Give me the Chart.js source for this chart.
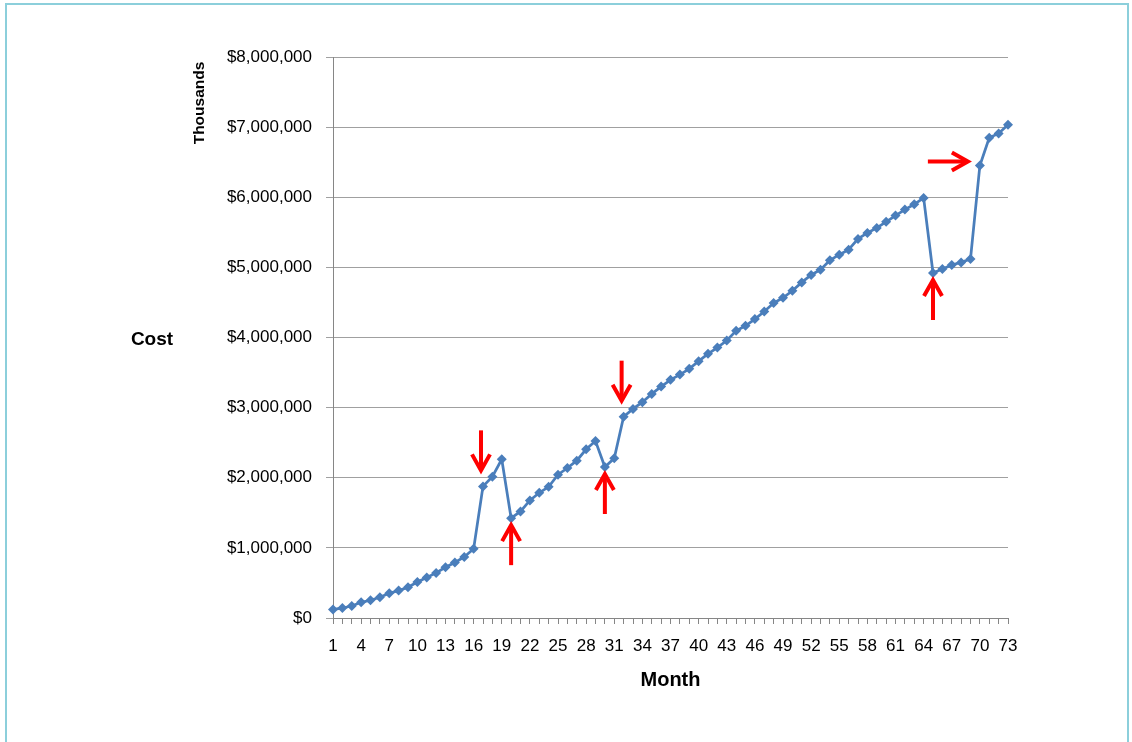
<!DOCTYPE html>
<html>
<head>
<meta charset="utf-8">
<script src="https://cdn.jsdelivr.net/npm/chart.js@4/dist/chart.umd.min.js"></script>
<style>
  html, body { margin: 0; padding: 0; background: #ffffff; }
  #wrap { width: 1132px; height: 742px; position: relative; }
</style>
</head>
<body>
<div id="wrap"><canvas id="c" width="1132" height="742"></canvas></div>
<script>
// ---- data ----
const months = Array.from({length: 73}, (_, i) => String(i + 1));
const costValues = [
  120000, 143000, 171000, 224000, 253000, 296000, 353000, 391000, 439000, 514000,
  577000, 643000, 724000, 791000, 871000, 986000, 1877000, 2014000, 2263000, 1424000,
  1520000, 1677000, 1786000, 1871000, 2043000, 2139000, 2243000, 2406000, 2524000, 2153000,
  2277000, 2871000, 2981000, 3077000, 3196000, 3300000, 3396000, 3471000, 3553000, 3663000,
  3767000, 3857000, 3957000, 4096000, 4167000, 4263000, 4371000, 4491000, 4567000, 4667000,
  4786000, 4891000, 4967000, 5100000, 5181000, 5253000, 5406000, 5491000, 5563000, 5649000,
  5739000, 5824000, 5900000, 5991000, 4920000, 4977000, 5034000, 5071000, 5120000, 6453000,
  6849000, 6910000, 7034000
];
const yTicks = [0, 1000000, 2000000, 3000000, 4000000, 5000000, 6000000, 7000000, 8000000];
const arrowMonths = [17, 20, 30, 32, 65, 70];
const arrowDirs = ['down', 'up', 'up', 'down', 'up', 'right'];
const yTitle = 'Cost';
const unitLabel = 'Thousands';
const xTitle = 'Month';

const fmt = v => '$' + Number(v).toLocaleString('en-US');

const decorPlugin = {
  id: 'decor',
  beforeDraw(chart) {
    const ctx = chart.ctx;
    ctx.save();
    ctx.strokeStyle = '#8ccfdb';
    ctx.lineWidth = 2;
    ctx.strokeRect(6, 4, 1122, 760);
    ctx.restore();
  },
  afterDatasetsDraw(chart) {
    const ctx = chart.ctx;
    const meta = chart.getDatasetMeta(0);
    ctx.save();
    ctx.strokeStyle = '#ff0000';
    ctx.lineWidth = 4;
    ctx.lineCap = 'butt';
    ctx.lineJoin = 'miter';
    const len = 40, hw = 9, hl = 16;
    arrowMonths.forEach((m, k) => {
      const pt = meta.data[m - 1];
      const dir = arrowDirs[k];
      let tx, ty, ux, uy;
      if (dir === 'down') { tx = pt.x - 2; ty = pt.y - 16; ux = 0; uy = 1; }
      else if (dir === 'up') { tx = pt.x; ty = pt.y + 7; ux = 0; uy = -1; }
      else { tx = pt.x - 12; ty = pt.y - 4; ux = 1; uy = 0; }
      const sx = tx - ux * len, sy = ty - uy * len;
      ctx.beginPath();
      ctx.moveTo(sx, sy);
      ctx.lineTo(tx - ux * 2, ty - uy * 2);
      ctx.stroke();
      const px = -uy, py = ux;
      ctx.beginPath();
      ctx.moveTo(tx - ux * hl + px * hw, ty - uy * hl + py * hw);
      ctx.lineTo(tx, ty);
      ctx.lineTo(tx - ux * hl - px * hw, ty - uy * hl - py * hw);
      ctx.stroke();
    });
    ctx.restore();
  },
  afterDraw(chart) {
    const ctx = chart.ctx;
    const area = chart.chartArea;
    ctx.save();
    ctx.fillStyle = '#000000';
    ctx.font = 'bold 19px "Liberation Sans", Arial, sans-serif';
    ctx.textAlign = 'center';
    ctx.textBaseline = 'middle';
    ctx.fillText(yTitle, 152, (area.top + area.bottom) / 2 + 2);
    ctx.translate(200, 103);
    ctx.rotate(-Math.PI / 2);
    ctx.font = 'bold 15.5px "Liberation Sans", Arial, sans-serif';
    ctx.fillText(unitLabel, 0, 0);
    ctx.restore();
  }
};

new Chart(document.getElementById('c'), {
  type: 'line',
  data: {
    labels: months,
    datasets: [{
      data: costValues,
      borderColor: '#4a7ebb',
      backgroundColor: '#4a7ebb',
      borderWidth: 2.75,
      pointStyle: 'rectRot',
      pointRadius: 5,
      pointBorderWidth: 0,
      pointBackgroundColor: '#4a7ebb',
      tension: 0
    }]
  },
  options: {
    responsive: false,
    devicePixelRatio: 1,
    animation: false,
    layout: { padding: { left: 0, right: 124, top: 57, bottom: 0 } },
    plugins: { legend: { display: false }, tooltip: { enabled: false } },
    scales: {
      x: {
        type: 'category',
        offset: false,
        afterFit: s => { s.height = 124; },
        border: { color: '#868686', width: 1 },
        grid: { drawOnChartArea: false, drawTicks: true, tickLength: 6, color: '#868686' },
        ticks: {
          autoSkip: false, maxRotation: 0, minRotation: 0, padding: 12,
          color: '#000000',
          font: { family: '"Liberation Sans", Arial, sans-serif', size: 17 },
          callback: (v, i) => (i % 3 === 0 ? months[i] : '')
        },
        title: {
          display: true, text: xTitle, color: '#000000',
          font: { family: '"Liberation Sans", Arial, sans-serif', size: 20, weight: 'bold' },
          padding: { top: 0, bottom: 50 }
        }
      },
      y: {
        min: 0, max: 8000000,
        afterFit: s => { s.width = 333; },
        afterBuildTicks: s => { s.ticks = yTicks.map(v => ({ value: v })); },
        border: { color: '#868686', width: 1 },
        grid: { color: '#a0a0a0', lineWidth: 1, tickLength: 7 },
        ticks: {
          padding: 14, color: '#000000',
          font: { family: '"Liberation Sans", Arial, sans-serif', size: 17 },
          callback: v => fmt(v)
        }
      }
    }
  },
  plugins: [decorPlugin]
});
</script>
</body>
</html>
